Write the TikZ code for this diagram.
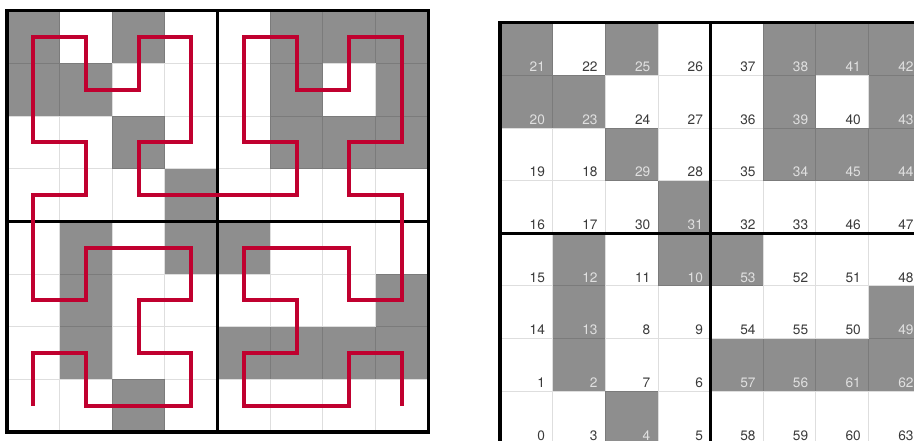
\documentclass[tikz,border=0pt]{standalone}
\usepackage{fontspec}
\setsansfont{TeX Gyre Heros}
\usepackage{tikz}
\usetikzlibrary{calc}
\definecolor{curveRed}{HTML}{C0002F}
\definecolor{cellGray}{HTML}{8E8E8E}
\definecolor{labelDark}{HTML}{3A3A3A}
\definecolor{labelLight}{HTML}{E0E0E0}

\begin{document}
\begin{tikzpicture}[x=1cm, y=1cm,
    gridline/.style={black, draw opacity=0.13, line width=0.5pt},
    frame/.style={black, line width=1.8pt},
    hilbert/.style={curveRed, line width=2.2pt, line join=miter},
    numlabel/.style={anchor=base east, inner sep=0pt, font=\sffamily\fontsize{7.4pt}{9pt}\selectfont}]
    \useasboundingbox (0,0) rectangle (17.36,8.376);
    \clip (0,0) rectangle (17.36,8.376);

    % index / column / row / shaded
    \def\cells{0/0/0/0, 1/0/1/0, 2/1/1/1, 3/1/0/0, 4/2/0/1, 5/3/0/0, 6/3/1/0, 7/2/1/0,
        8/2/2/0, 9/3/2/0, 10/3/3/1, 11/2/3/0, 12/1/3/1, 13/1/2/1, 14/0/2/0, 15/0/3/0,
        16/0/4/0, 17/1/4/0, 18/1/5/0, 19/0/5/0, 20/0/6/1, 21/0/7/1, 22/1/7/0, 23/1/6/1,
        24/2/6/0, 25/2/7/1, 26/3/7/0, 27/3/6/0, 28/3/5/0, 29/2/5/1, 30/2/4/0, 31/3/4/1,
        32/4/4/0, 33/5/4/0, 34/5/5/1, 35/4/5/0, 36/4/6/0, 37/4/7/0, 38/5/7/1, 39/5/6/1,
        40/6/6/0, 41/6/7/1, 42/7/7/1, 43/7/6/1, 44/7/5/1, 45/6/5/1, 46/6/4/0, 47/7/4/0,
        48/7/3/0, 49/7/2/1, 50/6/2/0, 51/6/3/0, 52/5/3/0, 53/4/3/1, 54/4/2/0, 55/5/2/0,
        56/5/1/1, 57/4/1/1, 58/4/0/0, 59/5/0/0, 60/6/0/0, 61/6/1/1, 62/7/1/1, 63/7/0/0}

    \begin{scope}[shift={(0.133,0.171)}]
        \foreach \n/\c/\r/\g in \cells {
            \ifnum\g=1 \fill[cellGray] (\c,\r) rectangle ++(1,1); \fi
            \coordinate (h\n) at (\c+0.5,\r+0.5);
        }
        \draw[gridline] (0,0) grid (8,8);
        \draw[frame] (0,0) rectangle (8,8) (4,0) -- (4,8) (0,4) -- (8,4);
        \draw[hilbert] (h0) \foreach \n in {1,...,63} { -- (h\n) };
    \end{scope}

    \begin{scope}[shift={(9.497,-0.055)}]
        \foreach \n/\c/\r/\g in \cells {
            \ifnum\g=1
                \fill[cellGray] (\c,\r) rectangle ++(1,1);
                \def\txtcol{labelLight}
            \else
                \def\txtcol{labelDark}
            \fi
            \node[numlabel, text=\txtcol] (n\n) at (\c+0.86,\r+0.07) {\n};
        }
        \draw[gridline] (0,0) grid (8,8);
        \draw[frame] (0,0) rectangle (8,8) (4,0) -- (4,8) (0,4) -- (8,4);
    \end{scope}
\end{tikzpicture}
\end{document}
